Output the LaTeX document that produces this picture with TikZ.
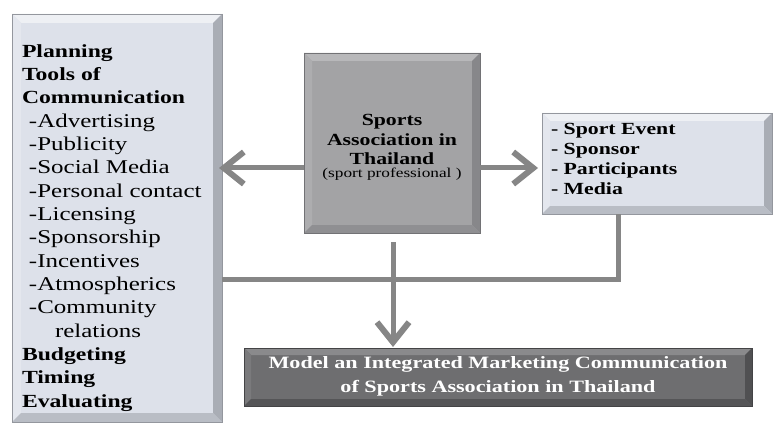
\documentclass[tikz,border=0pt]{standalone}
\usepackage{fontspec}
\setmainfont[FakeStretch=1.28]{Liberation Serif}
\usetikzlibrary{arrows.meta}
\definecolor{lightfill}{HTML}{DDE1EA}
\definecolor{lighttop}{HTML}{EEF0F4}
\definecolor{lightleft}{HTML}{E4E7EE}
\definecolor{lightright}{HTML}{A9ADB5}
\definecolor{lightbot}{HTML}{B9BDC5}
\definecolor{midfill}{HTML}{A3A3A5}
\definecolor{midtop}{HTML}{B8B8BA}
\definecolor{midleft}{HTML}{ADADAF}
\definecolor{midright}{HTML}{87878A}
\definecolor{midbot}{HTML}{8F8F92}
\definecolor{darkfill}{HTML}{6E6E70}
\definecolor{darktop}{HTML}{8A8A8C}
\definecolor{darkleft}{HTML}{7A7A7C}
\definecolor{darkright}{HTML}{505052}
\definecolor{darkbot}{HTML}{555557}
\definecolor{linecol}{HTML}{868686}
\newcommand\itm[1]{{\fontsize{19.5}{23.33}\selectfont #1}}
\tikzset{
  bevelbox/.style n args={6}{fill=#1, draw=#5!80!black, line width=0.6pt,
    inner sep=0pt, outer sep=0pt, anchor=north west,
    path picture={
      \fill[#2] (path picture bounding box.north west) -- (path picture bounding box.north east)
        -- ([xshift=-#6,yshift=-#6]path picture bounding box.north east)
        -- ([xshift=#6,yshift=-#6]path picture bounding box.north west) -- cycle;
      \fill[#3] (path picture bounding box.north west) -- (path picture bounding box.south west)
        -- ([xshift=#6,yshift=#6]path picture bounding box.south west)
        -- ([xshift=#6,yshift=-#6]path picture bounding box.north west) -- cycle;
      \fill[#4] (path picture bounding box.north east) -- (path picture bounding box.south east)
        -- ([xshift=-#6,yshift=#6]path picture bounding box.south east)
        -- ([xshift=-#6,yshift=-#6]path picture bounding box.north east) -- cycle;
      \fill[#5] (path picture bounding box.south west) -- (path picture bounding box.south east)
        -- ([xshift=-#6,yshift=#6]path picture bounding box.south east)
        -- ([xshift=#6,yshift=#6]path picture bounding box.south west) -- cycle;
    }},
  conn/.style={draw=linecol, line width=5pt},
  arr/.style={conn, -{Straight Barb[length=20pt,width=32pt,line width=6pt]}},
  txt/.style={inner sep=0pt, outer sep=0pt},
}
\begin{document}
\begin{tikzpicture}[x=1pt,y=-1pt]
\useasboundingbox (0,0) rectangle (774,425);
\fill[white] (0,0) rectangle (774,425);
% boxes
\node[bevelbox={lightfill}{lighttop}{lightleft}{lightright}{lightbot}{9pt},
      minimum width=210pt, minimum height=408pt] (lbox) at (12,14) {};
\node[bevelbox={midfill}{midtop}{midleft}{midright}{midbot}{8pt},
      minimum width=176pt, minimum height=180pt] (cbox) at (304,53) {};
\node[bevelbox={lightfill}{lighttop}{lightleft}{lightright}{lightbot}{8pt},
      minimum width=230pt, minimum height=101pt] (rbox) at (542,113) {};
\node[bevelbox={darkfill}{darktop}{darkleft}{darkright}{darkbot}{7pt},
      minimum width=508pt, minimum height=58pt] (bbox) at (244,348) {};
% texts
\node[txt, anchor=north west, align=left, font=\fontsize{18.5}{23.33}\selectfont] (ltext) at (22,44.5)
 {\textbf{Planning}\\
  \textbf{Tools of}\\
  \textbf{Communication}\\
  \hspace*{7pt}\itm{-Advertising}\\
  \hspace*{7pt}\itm{-Publicity}\\
  \hspace*{7pt}\itm{-Social Media}\\
  \hspace*{7pt}\itm{-Personal contact}\\
  \hspace*{7pt}\itm{-Licensing}\\
  \hspace*{7pt}\itm{-Sponsorship}\\
  \hspace*{7pt}\itm{-Incentives}\\
  \hspace*{7pt}\itm{-Atmospherics}\\
  \hspace*{7pt}\itm{-Community}\\
  \hspace*{33pt}\itm{relations}\\
  \textbf{Budgeting}\\
  \textbf{Timing}\\
  \textbf{Evaluating}};
\node[txt, anchor=north, align=center, font=\bfseries\fontsize{17}{19.5}\selectfont] (ctext) at (392,114.3)
 {Sports\\Association in\\Thailand};
\node[txt, anchor=base, font=\fontsize{13.5}{15}\selectfont] (csub) at (392,178) {(sport professional )};
\node[txt, anchor=north west, align=left, font=\bfseries\fontsize{17}{20}\selectfont] (rtext) at (551,123.3)
 {- Sport Event\\- Sponsor\\- Participants\\- Media};
\node[txt, anchor=north, align=center, text=white, font=\bfseries\fontsize{17.3}{24}\selectfont] (btext) at (498,356)
 {Model an Integrated Marketing Communication\\of Sports Association in Thailand};
% connectors
\coordinate (ay) at (0,168);
\coordinate (jn) at (618,279);
\coordinate (dx) at (393,0);
\draw[arr, shorten >=-3pt] (cbox.west |- ay) -- (lbox.east |- ay);
\draw[arr, shorten >=4pt] (cbox.east |- ay) -- (rbox.west |- ay);
\draw[conn] (rbox.south -| jn) -- (jn) -- (lbox.east |- jn);
\draw[arr, shorten <=9pt, shorten >=1pt] (cbox.south -| dx) -- (bbox.north -| dx);
\end{tikzpicture}
\end{document}
